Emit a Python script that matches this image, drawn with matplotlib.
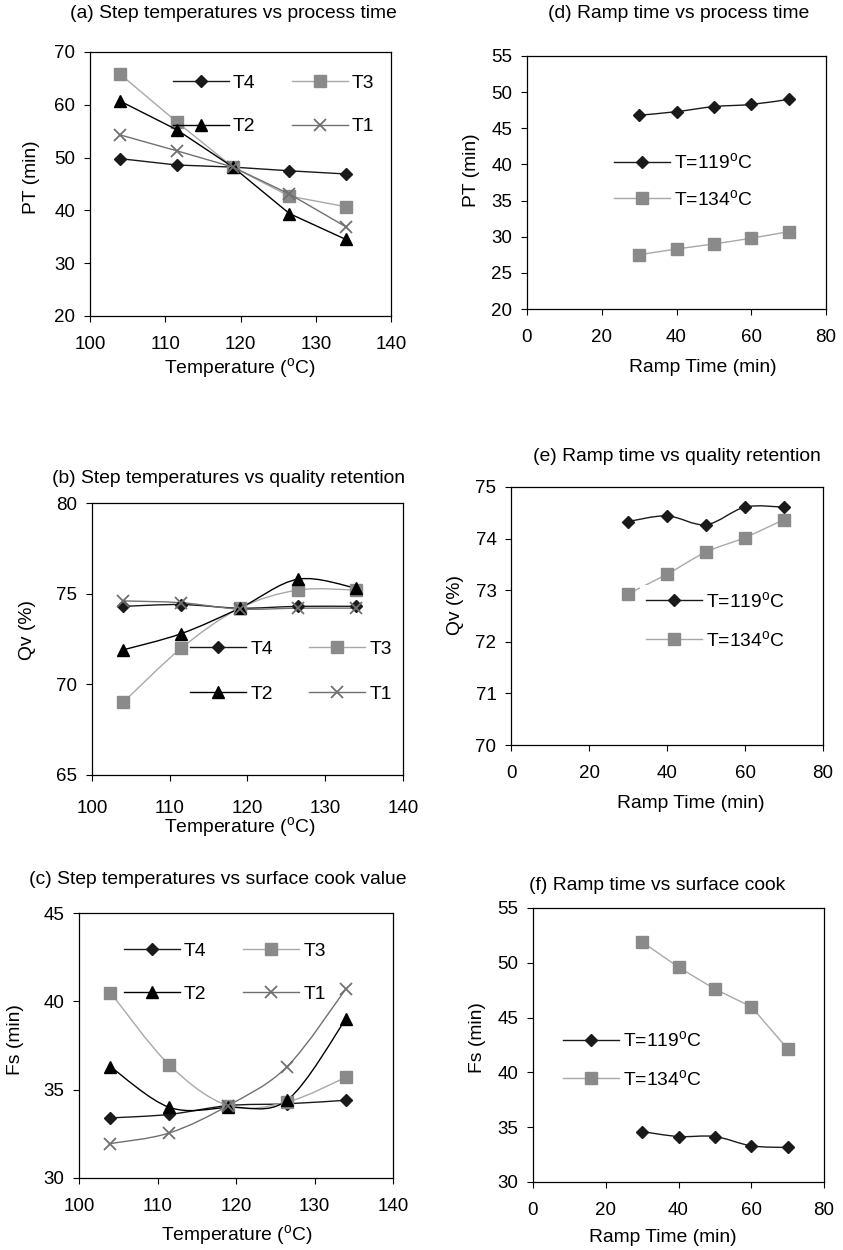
import numpy as np
import matplotlib
matplotlib.use("Agg")
import matplotlib.pyplot as plt
from matplotlib.path import Path
from matplotlib.patches import PathPatch
from matplotlib.lines import Line2D

plt.rcParams.update({
    "font.family": "Liberation Sans",
    "mathtext.fontset": "custom",
    "mathtext.rm": "Liberation Sans",
    "mathtext.it": "Liberation Sans:italic",
    "font.size": 13.9,
    "xtick.labelsize": 13.5,
    "ytick.labelsize": 13.5,
    "xtick.direction": "out",
    "ytick.direction": "out",
    "xtick.major.size": 4,
    "ytick.major.size": 4,
    "xtick.major.pad": 10.5,
    "ytick.major.pad": 6.5,
    "axes.linewidth": 0.9,
    "axes.unicode_minus": False,
})

W, H = 843, 1250

# --- data ---
step_temp = [104, 111.5, 119, 126.5, 134]   # step temperature (C)
ramp_time = [30, 40, 50, 60, 70]            # ramp time (min)

# (a) process time (min) vs step temperature
pt_T4 = [49.8, 48.6, 48.2, 47.5, 46.9]
pt_T3 = [65.8, 56.8, 48.2, 42.7, 40.7]
pt_T2 = [60.7, 55.3, 48.2, 39.4, 34.5]
pt_T1 = [54.3, 51.3, 48.2, 43.1, 36.9]

# (b) quality retention (%) vs step temperature
qv_T4 = [74.3, 74.4, 74.2, 74.3, 74.3]
qv_T3 = [69.0, 72.0, 74.2, 75.2, 75.2]
qv_T2 = [71.9, 72.8, 74.2, 75.8, 75.3]
qv_T1 = [74.6, 74.5, 74.15, 74.2, 74.2]

# (c) surface cook value (min) vs step temperature
fs_T4 = [33.4, 33.6, 34.1, 34.2, 34.4]
fs_T3 = [40.5, 36.4, 34.1, 34.3, 35.7]
fs_T2 = [36.3, 34.0, 34.0, 34.4, 39.0]
fs_T1 = [31.95, 32.55, 34.1, 36.3, 40.7]

# (d)-(f) ramp time series at two temperatures
pt_119 = [46.8, 47.3, 48.0, 48.3, 49.0]
pt_134 = [27.5, 28.3, 29.0, 29.8, 30.7]
qv_119 = [74.33, 74.44, 74.27, 74.61, 74.61]
qv_134 = [72.93, 73.31, 73.74, 74.02, 74.37]
fs_119 = [34.6, 34.15, 34.15, 33.3, 33.15]
fs_134 = [51.9, 49.6, 47.6, 46.0, 42.15]

deg = r"$^{\rm o}$"

STYLE = {
    "T4": dict(color="#1a1a1a", marker="D", ms=6.5, mfc="#1a1a1a", mec="#1a1a1a"),
    "T3": dict(color="#a8a8a8", marker="s", ms=8.5, mfc="#8a8a8a", mec="#8a8a8a"),
    "T2": dict(color="#000000", marker="^", ms=8.5, mfc="#000000", mec="#000000"),
    "T1": dict(color="#707070", marker="x", ms=8, mfc="#707070", mec="#707070", mew=1.3),
    "119": dict(color="#1a1a1a", marker="D", ms=6.5, mfc="#1a1a1a", mec="#1a1a1a"),
    "134": dict(color="#a8a8a8", marker="s", ms=8.5, mfc="#8a8a8a", mec="#8a8a8a"),
}

fig = plt.figure(figsize=(W / 100, H / 100), dpi=100)


def px_axes(left, top, right, bottom):
    return fig.add_axes([left / W, 1 - bottom / H, (right - left) / W, (bottom - top) / H])


def smooth_path(x, y):
    # Catmull-Rom style bezier through the points (like spreadsheet smoothed lines)
    pts = np.column_stack([np.asarray(x, float), np.asarray(y, float)])
    n = len(pts)
    verts, codes = [pts[0]], [Path.MOVETO]
    for i in range(n - 1):
        p0 = pts[max(i - 1, 0)]
        p1, p2 = pts[i], pts[i + 1]
        p3 = pts[min(i + 2, n - 1)]
        verts += [p1 + (p2 - p0) / 6, p2 - (p3 - p1) / 6, p2]
        codes += [Path.CURVE4] * 3
    return Path(verts, codes)


def series(ax, x, y, key, label, smooth=False, lw=1.0):
    st = STYLE[key]
    kw = dict(marker=st["marker"], ms=st["ms"], mfc=st["mfc"], mec=st["mec"],
              mew=st.get("mew", 1.0), color=st["color"], lw=lw)
    if smooth:
        ax.add_patch(PathPatch(smooth_path(x, y), fill=False, edgecolor=st["color"],
                               lw=lw, zorder=2))
        ax.plot(x, y, ls="none", zorder=3, **{k: v for k, v in kw.items() if k not in ("color", "lw")})
    else:
        ax.plot(x, y, ls="-", zorder=3, **kw)
    return Line2D([], [], label=label, **kw)


def finish(ax, xlim, xticks, ylim, yticks, xlabel, xl_pos, ylabel, yl_pos, title, t_pos):
    ax.set_xlim(*xlim)
    ax.set_ylim(*ylim)
    ax.set_xticks(xticks)
    ax.set_yticks(yticks)
    ax.set_xlabel(xlabel, va="center", ha="center")
    ax.xaxis.set_label_coords(xl_pos[0] / W, 1 - xl_pos[1] / H, transform=fig.transFigure)
    ax.set_ylabel(ylabel, va="center", ha="center")
    ax.yaxis.set_label_coords(yl_pos[0] / W, 1 - yl_pos[1] / H, transform=fig.transFigure)
    fig.text(t_pos[0] / W, 1 - t_pos[1] / H, title, ha="center", va="center")


def legend(ax, handles, ncol, center, spacing, frame=False):
    leg = ax.legend(handles=handles, ncol=ncol, loc="center", bbox_to_anchor=center,
                    frameon=frame, handlelength=2.9, handletextpad=0.2,
                    columnspacing=1.9, labelspacing=spacing, borderpad=0.3,
                    fontsize=13.9)
    if frame:
        leg.get_frame().set_facecolor("white")
        leg.get_frame().set_edgecolor("none")
        leg.get_frame().set_alpha(1)
        leg.get_frame().set_boxstyle("square", pad=0)
    return leg


temp_label = "Temperature (" + deg + "C)"
ramp_label = "Ramp Time (min)"

# (a) step temperatures vs process time
ax = px_axes(90, 52, 391, 316)
h4 = series(ax, step_temp, pt_T4, "T4", "T4")
h3 = series(ax, step_temp, pt_T3, "T3", "T3")
h2 = series(ax, step_temp, pt_T2, "T2", "T2")
h1 = series(ax, step_temp, pt_T1, "T1", "T1")
legend(ax, [h4, h2, h3, h1], 2, (0.61, 0.80), 1.35)
finish(ax, (100, 140), range(100, 141, 10), (20, 70), range(20, 71, 10),
       temp_label, (240, 368), "PT (min)", (32, 177),
       "(a) Step temperatures vs process time", (233, 14))

# (b) step temperatures vs quality retention
ax = px_axes(92, 503, 403, 775)
h4 = series(ax, step_temp, qv_T4, "T4", "T4", smooth=True)
h3 = series(ax, step_temp, qv_T3, "T3", "T3", smooth=True)
h2 = series(ax, step_temp, qv_T2, "T2", "T2", smooth=True)
h1 = series(ax, step_temp, qv_T1, "T1", "T1", smooth=True)
legend(ax, [h4, h2, h3, h1], 2, (0.64, 0.38), 1.4)
ax.tick_params(axis="x", pad=14)
finish(ax, (100, 140), range(100, 141, 10), (65, 80), range(65, 81, 5),
       temp_label, (240, 827), "Qv (%)", (27, 630),
       "(b) Step temperatures vs quality retention", (228, 478))

# (c) step temperatures vs surface cook value
ax = px_axes(79, 913, 393, 1178)
h4 = series(ax, step_temp, fs_T4, "T4", "T4", smooth=True)
h3 = series(ax, step_temp, fs_T3, "T3", "T3", smooth=True)
h2 = series(ax, step_temp, fs_T2, "T2", "T2", smooth=True)
h1 = series(ax, step_temp, fs_T1, "T1", "T1", smooth=True)
legend(ax, [h4, h2, h3, h1], 2, (0.465, 0.775), 1.3)
finish(ax, (100, 140), range(100, 141, 10), (30, 45), range(30, 46, 5),
       temp_label, (237, 1235), "Fs (min)", (16, 1040),
       "(c) Step temperatures vs surface cook value", (218, 879))

# (d) ramp time vs process time
ax = px_axes(527, 56, 826, 309)
ha = series(ax, ramp_time, pt_119, "119", "T=119" + deg + "C", smooth=True)
hb = series(ax, ramp_time, pt_134, "134", "T=134" + deg + "C", smooth=True)
legend(ax, [ha, hb], 1, (0.522, 0.508), 0.85)
finish(ax, (0, 80), range(0, 81, 20), (20, 55), range(20, 56, 5),
       ramp_label, (703, 367), "PT (min)", (472, 170),
       "(d) Ramp time vs process time", (679, 14))

# (e) ramp time vs quality retention
ax = px_axes(511, 487, 823, 745)
ha = series(ax, ramp_time, qv_119, "119", "T=119" + deg + "C", smooth=True)
hb = series(ax, ramp_time, qv_134, "134", "T=134" + deg + "C", smooth=True)
legend(ax, [ha, hb], 1, (0.654, 0.483), 0.95, frame=True)
finish(ax, (0, 80), range(0, 81, 20), (70, 75), range(70, 76, 1),
       ramp_label, (691, 803), "Qv (%)", (455, 605),
       "(e) Ramp time vs quality retention", (677, 457))

# (f) ramp time vs surface cook
ax = px_axes(533, 908, 824, 1182)
ha = series(ax, ramp_time, fs_119, "119", "T=119" + deg + "C", smooth=True)
hb = series(ax, ramp_time, fs_134, "134", "T=134" + deg + "C")
legend(ax, [ha, hb], 1, (0.34, 0.447), 0.95)
finish(ax, (0, 80), range(0, 81, 20), (30, 55), range(30, 56, 5),
       ramp_label, (663, 1237), "Fs (min)", (478, 1038),
       "(f) Ramp time vs surface cook", (657, 885))

fig.savefig("out.png", dpi=100)
